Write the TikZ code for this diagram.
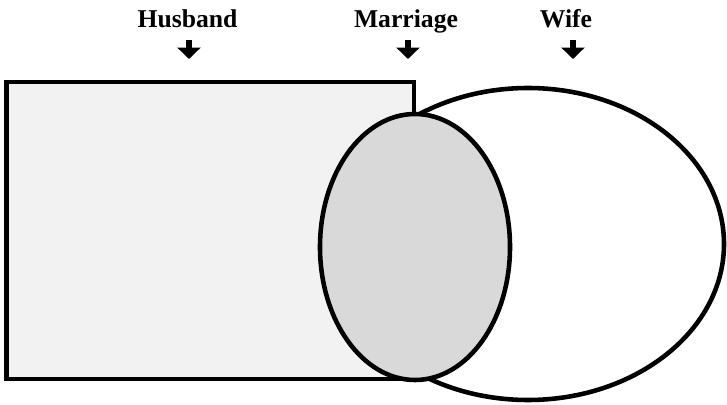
\documentclass[tikz,border=0pt]{standalone}
\usepackage{fontspec}
\setmainfont{Liberation Serif}
\usepackage{tikz}
\usetikzlibrary{arrows.meta, calc, positioning}
\definecolor{husbandgray}{HTML}{F2F2F2}
\definecolor{marriagegray}{HTML}{D9D9D9}
\tikzset{
  setlabel/.style={font=\fontsize{14.6}{17}\selectfont\bfseries, inner sep=0pt, anchor=base},
  downarrow/.style={line width=3.4pt, -{Triangle[width=13pt, length=6.5pt]}},
  outline/.style={line width=2.6pt}
}
\begin{document}
\begin{tikzpicture}[x=0.02cm, y=-0.02cm]
\useasboundingbox (0,0) rectangle (727,405);
% sets
\draw[outline, fill=husbandgray] (6.5,82) rectangle (414,379);
\draw[outline, fill=white] (528,244) ellipse [x radius=196, y radius=156];
\draw[outline, fill=marriagegray] (415,247) ellipse [x radius=95, y radius=133];
% labels
\node[setlabel] (husband) at (187.5,28) {Husband};
\node[setlabel] (marriage) at (406,28) {Marriage};
\node[setlabel] (wife) at (566,28) {Wife};
% arrows
\coordinate (husbandtip) at (189,59);
\coordinate (marriagetip) at (408,59);
\coordinate (wifetip) at (573,59);
\draw[downarrow] (husbandtip |- 0,40) -- (husbandtip);
\draw[downarrow] (marriagetip |- 0,40) -- (marriagetip);
\draw[downarrow] (wifetip |- 0,40) -- (wifetip);
\end{tikzpicture}
\end{document}
